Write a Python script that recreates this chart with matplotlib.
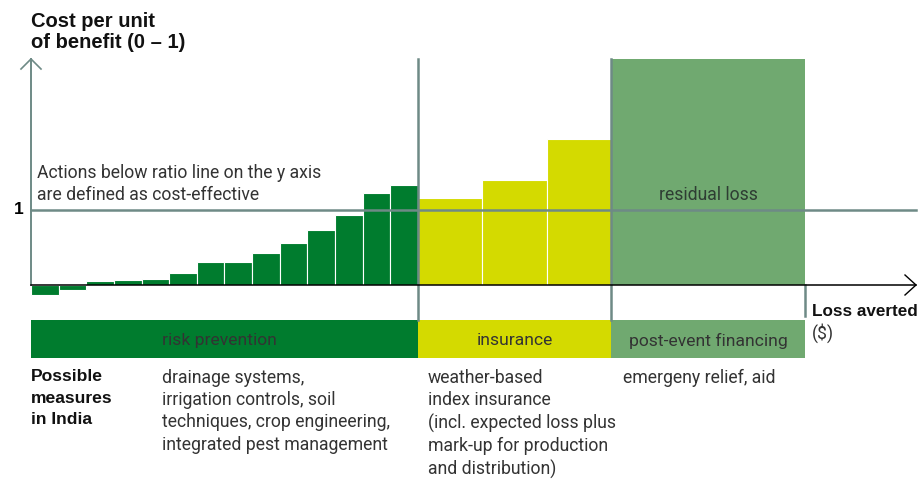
import numpy as np
import matplotlib
matplotlib.use("Agg")
import matplotlib.pyplot as plt

# ---- data ----
prevention_ratio = [-0.13, -0.06, 0.05, 0.07, 0.085, 0.16, 0.31, 0.31, 0.43, 0.56, 0.73, 0.94, 1.23, 1.33]
prevention_width = [1] * 14
insurance_ratio = [1.16, 1.40, 1.95]
insurance_width = [7 / 3] * 3
residual_ratio = [3.02]
residual_width = [7]
ratio_line = 1.0
band_labels = ["risk prevention", "insurance", "post-event financing"]
band_widths = [14, 7, 7]
measures = [
    "drainage systems,\nirrigation controls, soil\ntechniques, crop engineering,\nintegrated pest management",
    "weather-based\nindex insurance\n(incl. expected loss plus\nmark-up for production\nand distribution)",
    "emergeny relief, aid",
]
ytick_labels = ["1"]

C_GREEN = "#007c2e"
C_YELLOW = "#d4da00"
C_RESID = "#70a970"
C_LINE = "#6e8a86"
C_TEXT = "#333333"

REG = "Roboto"
BOLD = "Liberation Sans"
FS = 12.7
LS = 1.3

W, H = 919, 479
fig = plt.figure(figsize=(W / 100, H / 100), dpi=100)
ax = fig.add_axes([0, 0, 1, 1])
px_x = 27.64   # pixels per x unit
px_y = 75.0    # pixels per y unit
x0px, y0px = 31, 285
ax.set_xlim(-x0px / px_x, (W - x0px) / px_x)
ax.set_ylim((y0px - H) / px_y, y0px / px_y)
ax.axis("off")

def fx(px):
    return px / W

def fy(py):
    return 1 - py / H

# bars
def lefts(widths, start):
    return start + np.concatenate([[0], np.cumsum(widths)[:-1]])

gl = lefts(prevention_width, 0)
ax.bar(gl, prevention_ratio, width=prevention_width, align="edge", color=C_GREEN,
       edgecolor="white", linewidth=0.8, zorder=2)
il = lefts(insurance_width, sum(prevention_width))
ax.bar(il, insurance_ratio, width=insurance_width, align="edge", color=C_YELLOW,
       edgecolor="white", linewidth=0.8, zorder=2)
rl = lefts(residual_width, sum(prevention_width) + sum(insurance_width))
ax.bar(rl, residual_ratio, width=residual_width, align="edge", color=C_RESID,
       linewidth=0, zorder=2)

x_end = (916 - x0px) / px_x
top = (y0px - 59) / px_y
band_top = (y0px - 320) / px_y
band_bot = (y0px - 358) / px_y

# ratio line
ax.plot([0, x_end], [ratio_line, ratio_line], color=C_LINE, lw=1.8, zorder=4)
# separators
for xs in [sum(band_widths[:1]), sum(band_widths[:2])]:
    ax.plot([xs, xs], [top, band_top], color=C_LINE, lw=1.8, zorder=4)
ax.plot([sum(band_widths)] * 2, [0, (y0px - 316) / px_y], color=C_LINE, lw=1.8, zorder=4)

# y axis with chevron
ax.plot([0, 0], [0, top], color=C_LINE, lw=1.4, zorder=5)
ax.plot([-10 / px_x, 0, 10 / px_x], [top - 10 / px_y, top, top - 10 / px_y],
        color=C_LINE, lw=1.2, zorder=5)
# x axis with chevron
ax.plot([0, x_end], [0, 0], color="black", lw=1.1, zorder=5)
ax.plot([x_end - 11 / px_x, x_end, x_end - 11 / px_x], [10 / px_y, 0, -10 / px_y],
        color="black", lw=1.0, zorder=5)

# band
band_colors = [C_GREEN, C_YELLOW, C_RESID]
bl = lefts(band_widths, 0)
ax.bar(bl, [band_bot - band_top] * 3, bottom=band_top, width=band_widths, align="edge",
       color=band_colors, linewidth=0, zorder=2)
for l, w, lab, dx in zip(bl, band_widths, band_labels, [-5, 0, 0]):
    ax.text(l + w / 2 + dx / px_x, (band_top + band_bot) / 2 - 1.5 / px_y, lab,
            ha="center", va="center", fontsize=12.6, family=REG, color=C_TEXT, zorder=6)

# y tick label
ax.text(-7 / px_x, ratio_line, ytick_labels[0], ha="right", va="center", fontsize=12.5,
        family=BOLD, weight="bold", color="black")

# texts
fig.text(fx(31), fy(32), "Cost per unit\nof benefit (0 – 1)", ha="left", va="center",
         fontsize=14.5, family=BOLD, weight="bold", color="#111111", linespacing=1.12)
fig.text(fx(37), fy(184), "Actions below ratio line on the y axis\nare defined as cost-effective",
         ha="left", va="center", fontsize=FS, family=REG, color=C_TEXT, linespacing=LS)
ax.text(rl[0] + residual_width[0] / 2, (y0px - 195) / px_y, "residual loss", ha="center",
        va="center", fontsize=FS, family=REG, color="#2e3d33", zorder=6)
fig.text(fx(812), fy(311), "Loss averted", ha="left", va="center", fontsize=12.3,
         family=BOLD, weight="bold", color="#111111")
fig.text(fx(812), fy(333), "($)", ha="left", va="center", fontsize=FS,
         family=REG, color=C_TEXT)

fig.text(fx(31), fy(369), "Possible\nmeasures\nin India", ha="left", va="top", fontsize=12.6,
         family=BOLD, weight="bold", color="#111111", linespacing=1.55)
for xp, txt in zip([162, 428, 623], measures):
    fig.text(fx(xp), fy(369), txt, ha="left", va="top", fontsize=FS, family=REG,
             color=C_TEXT, linespacing=LS)

fig.savefig("out.png", dpi=100, facecolor="white")
